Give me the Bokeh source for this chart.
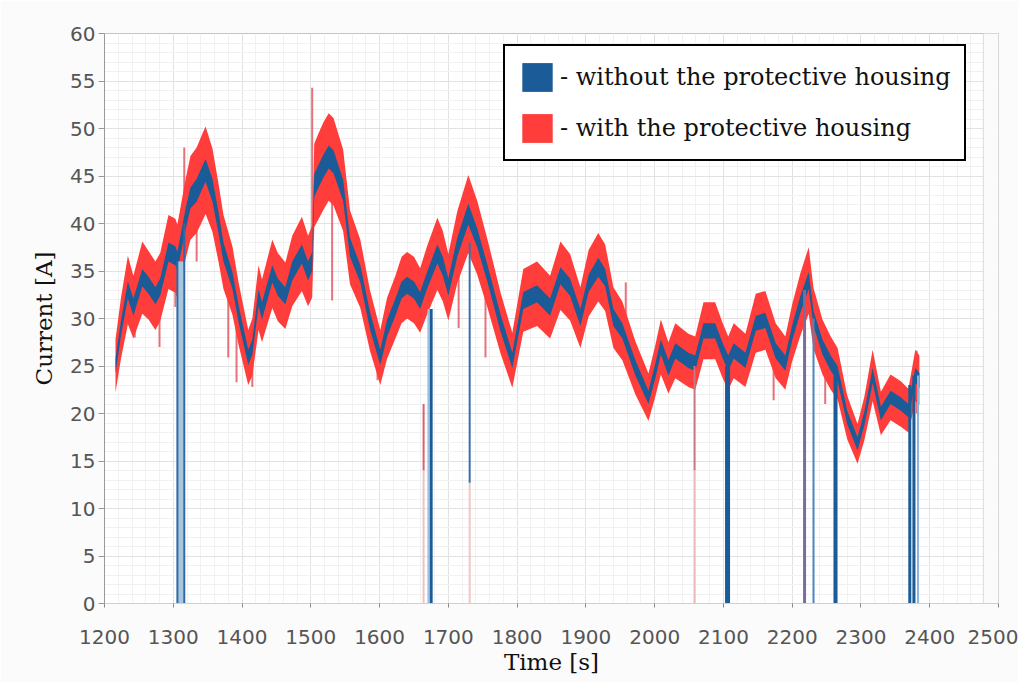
import numpy as np
from bokeh.plotting import figure
from bokeh.models import (Range1d, Legend, LegendItem, SingleIntervalTicker,
                          ColumnDataSource)
from bokeh.embed import file_html
from bokeh.resources import INLINE

# ---------------- data ----------------
time_s = [1216, 1224, 1234, 1242, 1255, 1264, 1274, 1281, 1293, 1303, 1306,
          1318, 1325, 1334, 1342, 1347, 1357, 1366, 1373, 1386, 1395, 1409,
          1415, 1424, 1429, 1444, 1452, 1463, 1473, 1487, 1496, 1502, 1505,
          1510, 1518, 1526, 1533, 1547, 1557, 1572, 1586, 1601, 1611, 1623,
          1632, 1640, 1650, 1659, 1669, 1684, 1692, 1700, 1713, 1729, 1742,
          1757, 1776, 1793, 1809, 1829, 1848, 1863, 1877, 1892, 1904, 1918,
          1928, 1940, 1953, 1972, 1991, 2001, 2009, 2020, 2030, 2049, 2059,
          2071, 2088, 2099, 2107, 2115, 2132, 2147, 2161, 2176, 2190, 2200,
          2212, 2224, 2231, 2244, 2256, 2266, 2280, 2295, 2305, 2317, 2329,
          2343, 2358, 2369, 2379, 2385]

current_mid = [25.0, 29.0, 33.0, 31.2, 34.3, 33.5, 32.4, 33.3, 37.0, 36.6, 36.0,
               40.5, 42.7, 43.5, 44.8, 45.6, 43.5, 40.0, 37.0, 34.0, 30.5, 25.9,
               27.0, 32.2, 30.8, 34.7, 33.3, 32.4, 35.0, 36.8, 35.0, 36.0, 44.0,
               44.8, 46.0, 47.0, 46.5, 43.5, 37.5, 34.7, 29.8, 25.9, 29.0, 31.2,
               33.0, 33.5, 33.0, 31.9, 34.0, 36.8, 35.5, 33.3, 37.5, 41.0, 38.5,
               34.7, 29.5, 25.6, 31.9, 32.6, 31.2, 34.5, 33.3, 30.1, 33.7, 35.4,
               34.3, 30.1, 28.7, 24.8, 21.7, 24.5, 27.0, 24.8, 26.6, 25.6, 25.3,
               28.7, 28.7, 26.6, 25.3, 26.6, 25.6, 29.5, 29.8, 26.6, 25.3, 28.5,
               31.5, 34.0, 30.0, 27.0, 25.3, 24.2, 19.6, 16.8, 19.5, 24.0, 20.0,
               21.7, 21.0, 20.3, 24.0, 23.5]

# half spread of the band "with the protective housing"
with_half = [2.8, 3.2, 3.6, 3.3, 3.8, 3.6, 3.6, 3.6, 3.9, 3.9, 3.9,
             4.2, 4.4, 4.5, 4.6, 4.6, 4.4, 4.1, 3.9, 3.6, 3.3, 2.9,
             3.0, 3.4, 3.3, 3.6, 3.6, 3.5, 3.7, 3.9, 3.7, 3.8, 4.4,
             4.5, 4.6, 4.6, 4.6, 4.3, 3.9, 3.6, 3.2, 2.9, 3.2, 3.3,
             3.5, 3.5, 3.5, 3.4, 3.6, 3.8, 3.7, 3.5, 3.8, 4.1, 3.9,
             3.6, 3.2, 2.9, 3.3, 3.4, 3.3, 3.6, 3.5, 3.2, 3.5, 3.6,
             3.5, 3.2, 3.1, 2.8, 2.5, 2.7, 2.9, 2.7, 2.9, 2.8, 2.8,
             3.0, 3.0, 2.9, 2.8, 2.9, 2.8, 3.1, 3.1, 2.9, 2.8, 3.0,
             3.3, 3.5, 3.2, 2.9, 2.8, 2.7, 2.3, 2.1, 2.3, 2.7, 2.3,
             2.4, 2.4, 2.3, 2.7, 2.6]

# half spread of the band "without the protective housing"
without_half = [0.8, 0.8, 0.9, 0.9, 0.9, 0.9, 0.9, 0.9, 1.0, 1.0, 1.0,
                1.1, 1.1, 1.2, 1.2, 1.2, 1.2, 1.1, 1.0, 0.9, 0.9, 0.8,
                0.8, 0.9, 0.9, 0.9, 0.9, 0.9, 1.0, 1.0, 1.0, 1.0, 1.2,
                1.2, 1.2, 1.2, 1.2, 1.1, 1.0, 0.9, 0.9, 0.8, 0.9, 0.9,
                0.9, 0.9, 0.9, 0.9, 0.9, 1.0, 1.0, 0.9, 1.0, 1.1, 1.0,
                0.9, 0.9, 0.8, 0.9, 0.9, 0.9, 0.9, 0.9, 0.9, 0.9, 1.0,
                0.9, 0.9, 0.8, 0.8, 0.7, 0.8, 0.8, 0.8, 0.8, 0.8, 0.8,
                0.8, 0.8, 0.8, 0.8, 0.8, 0.8, 0.8, 0.8, 0.8, 0.8, 0.8,
                0.9, 0.9, 0.8, 0.8, 0.8, 0.8, 0.7, 0.7, 0.7, 0.8, 0.7,
                0.7, 0.7, 0.7, 0.8, 0.8]

# short noise spikes
spike_t  = [1244, 1280, 1303, 1316, 1334, 1380, 1392, 1415, 1502, 1531,
            1597, 1715, 1754, 1958, 2173, 2248, 2381]
spike_lo = [28.0, 27.0, 31.2, 40.0, 36.0, 25.9, 23.3, 22.8, 36.0, 31.9,
            23.5, 29.0, 25.9, 28.0, 21.4, 21.0, 20.0]
spike_hi = [34.0, 36.0, 38.0, 48.0, 44.0, 36.0, 33.0, 28.0, 54.3, 44.0,
            29.0, 38.0, 34.0, 33.8, 28.0, 27.0, 26.6]

# drop-outs to zero
drop_t   = [1311, 1306, 1316, 1664, 1664, 1671, 1675, 1731, 1731, 2058, 2058,
            2106, 2218, 2231, 2263, 2371, 2377, 2383]
drop_lo  = [0, 0, 0, 14, 0, 0, 0, 12.7, 0, 14, 0, 0, 0, 0, 0, 0, 0, 0]
drop_hi  = [36, 36, 40, 21, 14, 31, 31, 38, 12.7, 25, 14, 25, 33, 30, 24, 23, 24, 24]
drop_col = ["#a9c6df", "#2f6aa3", "#2f6aa3", "#d9606c", "#f0c2c2", "#9cc0e0",
            "#1b5b98", "#3a70a8", "#f0c6c6", "#c87884", "#e8b8bc", "#1b5b98",
            "#7a6c9c", "#4a86c0", "#1b5b98", "#1b5b98", "#1b5b98", "#8ab4dc"]
drop_w   = [6, 2, 2, 2, 2, 2, 3, 2, 2, 2, 2, 5, 3, 2, 4, 3, 3, 2]

x_min, x_max = 1200, 2500
y_min, y_max = 0, 60
x_ticks_step = 100
y_ticks_step = 5
plot_area_end = 2478   # where the original plot frame ends (right side)

BLUE = "#1b5b98"
RED = "#ff3d3a"
PAGE_BG = "#fbfbfb"

# ---------------- figure ----------------
mid = np.array(current_mid)
src = ColumnDataSource(dict(
    t=time_s,
    with_lo=mid - np.array(with_half), with_hi=mid + np.array(with_half),
    wo_lo=mid - np.array(without_half), wo_hi=mid + np.array(without_half),
))

p = figure(width=1018, height=682, x_range=Range1d(x_min, x_max),
           y_range=Range1d(y_min, y_max), output_backend="svg",
           toolbar_location=None,
           min_border_left=104, min_border_right=20, min_border_top=33,
           min_border_bottom=79)

p.background_fill_color = "#ffffff"
p.border_fill_color = PAGE_BG
p.outline_line_color = "#c4c4c4"

p.xaxis.ticker = SingleIntervalTicker(interval=x_ticks_step, num_minor_ticks=5)
p.yaxis.ticker = SingleIntervalTicker(interval=y_ticks_step, num_minor_ticks=5)

p.xgrid.grid_line_color = "#e2e2e2"
p.ygrid.grid_line_color = "#e2e2e2"
p.xgrid.minor_grid_line_color = "#f1f1f1"
p.ygrid.minor_grid_line_color = "#f1f1f1"

for ax in (p.xaxis, p.yaxis):
    ax.major_label_text_font = "DejaVu Sans"
    ax.major_label_text_font_size = "20px"
    ax.major_label_text_color = "#555555"
    ax.minor_tick_line_color = None
    ax.major_tick_in = 0
    ax.axis_label_text_font = "DejaVu Serif"
    ax.axis_label_text_font_size = "23px"
    ax.axis_label_text_font_style = "normal"
    ax.axis_label_text_color = "#111111"

p.xaxis.axis_line_color = "#d0d0d0"
p.xaxis.major_tick_line_color = "#888888"
p.xaxis.major_tick_out = 4
p.xaxis.major_label_standoff = 22
p.xaxis.axis_label = "Time [s]"
p.xaxis.axis_label_standoff = 2

p.yaxis.axis_line_color = "#999999"
p.yaxis.major_tick_line_color = "#999999"
p.yaxis.major_tick_out = 6
p.yaxis.major_label_standoff = 3
p.yaxis.axis_label = "Current [A]"
p.yaxis.axis_label_standoff = 10

# strip past the end of the original frame (covers the grid there)
p.quad(left=[plot_area_end], right=[x_max], bottom=[y_min], top=[y_max],
       fill_color=PAGE_BG, fill_alpha=1, line_color="#dcdcdc", line_width=1)

# noise spikes
p.segment(x0=spike_t, y0=spike_lo, x1=spike_t, y1=spike_hi,
          line_color="#e0505a", line_width=2, line_alpha=0.8)

red_r = p.varea(x="t", y1="with_lo", y2="with_hi", source=src,
                fill_color=RED, fill_alpha=1)
blue_r = p.varea(x="t", y1="wo_lo", y2="wo_hi", source=src,
                 fill_color=BLUE, fill_alpha=1)

# drop-outs
p.segment(x0=drop_t, y0=drop_lo, x1=drop_t, y1=drop_hi,
          line_color=drop_col, line_width=drop_w)

legend = Legend(items=[
    LegendItem(label="- without the protective housing", renderers=[blue_r]),
    LegendItem(label="- with the protective housing", renderers=[red_r]),
], location=(399, 442))
legend.border_line_color = "black"
legend.border_line_alpha = 1
legend.border_line_width = 2
legend.background_fill_color = "white"
legend.background_fill_alpha = 1
legend.glyph_width = 38
legend.glyph_height = 36
legend.label_standoff = 4
legend.label_text_font = "DejaVu Serif"
legend.label_text_font_size = "24px"
legend.label_text_color = "#111111"
legend.padding = 13
legend.spacing = 15
legend.margin = 0
p.add_layout(legend)

open("out.html", "w").write(file_html(p, INLINE))
